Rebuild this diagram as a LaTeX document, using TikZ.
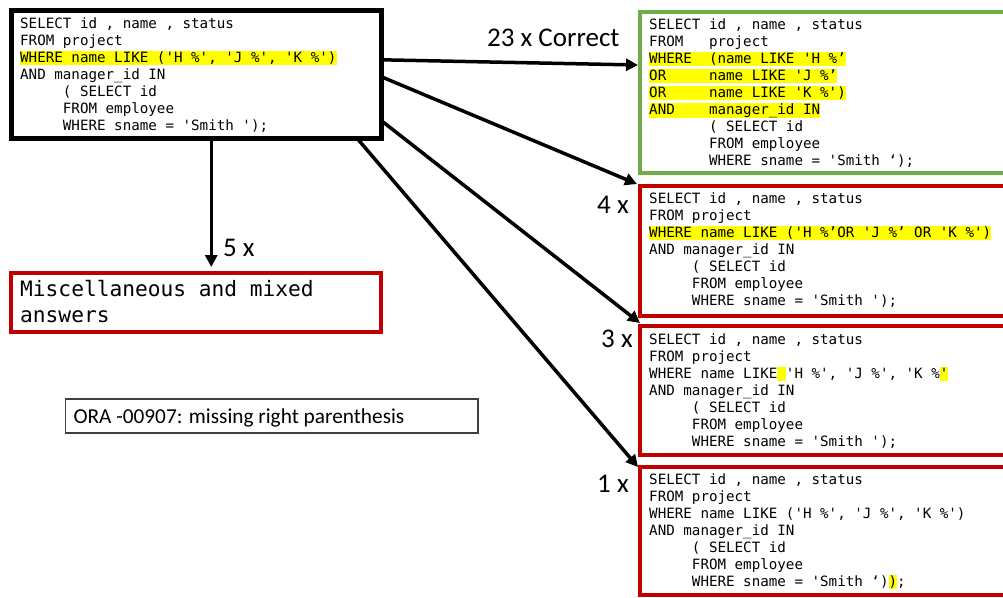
\documentclass[tikz,border=0pt]{standalone}
\usepackage{fontspec}
\setmainfont{Carlito}
\setmonofont{DejaVu Sans Mono}
\usetikzlibrary{arrows.meta,calc}

\definecolor{okgreen}{HTML}{70AD47}
\definecolor{badred}{HTML}{C00000}
\definecolor{hly}{HTML}{FFFF00}
\definecolor{thinframe}{HTML}{404040}

% strut of one code line and a highlighter built on it
\newcommand\cs{\rule[-3pt]{0pt}{14pt}}
\newcommand\hl[1]{{\setlength{\fboxsep}{0pt}\colorbox{hly}{\cs#1}}}

\tikzset{
  frame/.style={draw, inner sep=0pt, outer sep=0pt, fill=white},
  blackframe/.style={frame, line width=5pt, draw=black},
  greenframe/.style={frame, line width=4pt, draw=okgreen},
  redframe/.style={frame, line width=4pt, draw=badred},
  oraframe/.style={frame, line width=1.2pt, draw=thinframe},
  code/.style={anchor=north west, inner sep=0pt, align=left,
    font=\fontsize{14.2}{17}\selectfont\ttfamily},
  bigcode/.style={anchor=north west, inner sep=0pt, align=left,
    font=\fontsize{21.2}{25.6}\selectfont\ttfamily},
  count/.style={anchor=base west, inner sep=0pt, font=\fontsize{27}{30}\selectfont},
  note/.style={anchor=base west, inner sep=0pt, font=\fontsize{21.3}{24}\selectfont},
  arr/.style={line width=3.5pt, -{Triangle[length=12pt,width=12pt]}}
}

\begin{document}
\begin{tikzpicture}[x=1pt,y=-1pt]
\useasboundingbox (0,0) rectangle (1003,597);
\clip (0,0) rectangle (1003,597);

% frames
\node[blackframe, minimum width=370.5pt, minimum height=127.2pt] (tl) at (196.25,74.4) {};
\node[greenframe, minimum width=372pt, minimum height=161pt] (green) at (826,92) {};
\node[redframe, minimum width=372pt, minimum height=130pt] (red1) at (826,250.5) {};
\node[redframe, minimum width=372pt, minimum height=128.5pt] (red2) at (826,390.25) {};
\node[redframe, minimum width=372pt, minimum height=128pt] (red3) at (826,531) {};
\node[redframe, minimum width=370.5pt, minimum height=58.5pt] (misc) at (195.75,302.25) {};
\node[oraframe, minimum width=412.7pt, minimum height=34pt] (ora) at (271.7,416) {};

% original query
\node[code] (tltext) at (20,17) {%
\cs SELECT id , name , status\\
\cs FROM project\\
\hl{WHERE name LIKE ('H \%', 'J \%', 'K \%')}\\
\cs AND manager\_id IN\\
\cs ~~~~~( SELECT id\\
\cs ~~~~~FROM employee\\
\cs ~~~~~WHERE sname = 'Smith ');};

% correct answer
\node[code] (greentext) at (649,18) {%
\cs SELECT id , name , status\\
\cs FROM~~~project\\
\hl{WHERE~~(name LIKE 'H \%’}\\
\hl{OR~~~~~name LIKE 'J \%’}\\
\hl{OR~~~~~name LIKE 'K \%')}\\
\hl{AND~~~~manager\_id IN}\\
\cs ~~~~~~~( SELECT id\\
\cs ~~~~~~~FROM employee\\
\cs ~~~~~~~WHERE sname = 'Smith ‘);};

% wrong answers
\node[code] (red1text) at (649,192) {%
\cs SELECT id , name , status\\
\cs FROM project\\
\hl{WHERE name LIKE ('H \%’OR 'J \%’ OR 'K \%')}\\
\cs AND manager\_id IN\\
\cs ~~~~~( SELECT id\\
\cs ~~~~~FROM employee\\
\cs ~~~~~WHERE sname = 'Smith ');};

\node[code] (red2text) at (649,333) {%
\cs SELECT id , name , status\\
\cs FROM project\\
\cs WHERE name LIKE\hl{~}'H \%', 'J \%', 'K \%\hl{'}\\
\cs AND manager\_id IN\\
\cs ~~~~~( SELECT id\\
\cs ~~~~~FROM employee\\
\cs ~~~~~WHERE sname = 'Smith ');};

\node[code] (red3text) at (649,473) {%
\cs SELECT id , name , status\\
\cs FROM project\\
\cs WHERE name LIKE ('H \%', 'J \%', 'K \%')\\
\cs AND manager\_id IN\\
\cs ~~~~~( SELECT id\\
\cs ~~~~~FROM employee\\
\cs ~~~~~WHERE sname = 'Smith ‘)\hl{)};};

\node[bigcode] (misctext) at (20,279.7) {%
\rule{0pt}{17pt}Miscellaneous and mixed\\
answers};

\node[note] (oratext) at (73.3,423.3) {ORA -00907: missing right parenthesis};

% counts
\node[count] (c23) at (487,46.7) {23 x Correct};
\node[count] (c4) at (597,213.3) {4 x};
\node[count] (c3) at (601,347.3) {3 x};
\node[count] (c1) at (597,492.5) {1 x};
\node[count] (c5) at (223,256.7) {5 x};

% connectors
\draw[arr] ($(tl.north east)+(0,49)$) -- ($(green.north west)+(-2,53.5)$);
\draw[arr] ($(tl.north east)+(0,66)$) -- ($(red1.north west)+(-3,-1.5)$);
\draw[arr] ($(tl.north east)+(0,110)$) -- ($(red2.north west)+(0,-3)$);
\draw[arr] ($(tl.south east)+(-23,2)$) -- ($(red3.north west)+(-2,0)$);
\draw[arr] ($(tl.south)+(15,0)$) -- ($(misc.north)+(15.5,-6)$);
\end{tikzpicture}
\end{document}
